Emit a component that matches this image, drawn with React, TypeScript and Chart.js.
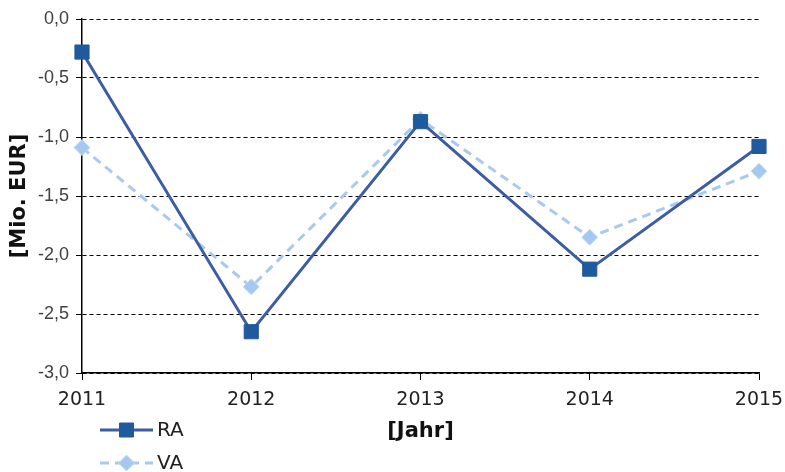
import React, { useEffect, useRef } from "react";
import { Chart, registerables } from "chart.js";

Chart.register(...registerables);

const years = ["2011", "2012", "2013", "2014", "2015"];
const raValues = [-0.28, -2.65, -0.87, -2.12, -1.08];
const vaValues = [-1.09, -2.27, -0.85, -1.85, -1.29];
const seriesLabels = ["RA", "VA"];
const yMin = -3;
const yMax = 0;
const yStep = 0.5;
const xTitle = "[Jahr]";
const yTitle = "[Mio. EUR]";

const RA_LINE = "#3D5DA3";
const RA_POINT = "#1F5A9E";
const VA_LINE = "#A9C9EE";
const VA_POINT = "#A5C8F0";

const legendPlugin = {
  id: "customLegend",
  afterDraw(chart: any) {
    const ctx = chart.ctx;
    const rows = [430, 463];
    chart.data.datasets.forEach((ds: any, i: number) => {
      const y = rows[i];
      const x0 = 100;
      const x1 = 153;
      ctx.save();
      ctx.strokeStyle = ds.borderColor;
      ctx.lineWidth = 3;
      ctx.setLineDash(ds.borderDash || []);
      ctx.beginPath();
      ctx.moveTo(x0, y);
      ctx.lineTo(x1, y);
      ctx.stroke();
      ctx.setLineDash([]);
      const cx = (x0 + x1) / 2;
      ctx.fillStyle = ds.pointBackgroundColor;
      ctx.strokeStyle = ds.pointBorderColor;
      ctx.lineWidth = 1;
      ctx.beginPath();
      if (ds.pointStyle === "rect") {
        ctx.rect(cx - 7, y - 7, 14, 14);
      } else {
        ctx.moveTo(cx, y - 8);
        ctx.lineTo(cx + 8, y);
        ctx.lineTo(cx, y + 8);
        ctx.lineTo(cx - 8, y);
        ctx.closePath();
      }
      ctx.fill();
      ctx.stroke();
      ctx.fillStyle = "#222";
      ctx.font = "20px 'DejaVu Sans'";
      ctx.textBaseline = "middle";
      ctx.textAlign = "left";
      ctx.fillText(ds.label, 157, y + 1);
      ctx.restore();
    });
  },
};

export default function App() {
  const ref = useRef<HTMLCanvasElement | null>(null);

  useEffect(() => {
    if (!ref.current) return;
    const chart = new Chart(ref.current, {
      type: "line",
      data: {
        labels: years,
        datasets: [
          {
            label: seriesLabels[0],
            data: raValues,
            borderColor: RA_LINE,
            borderWidth: 3,
            pointStyle: "rect",
            pointRadius: 10,
            pointHoverRadius: 10,
            pointBackgroundColor: RA_POINT,
            pointBorderColor: RA_POINT,
            pointBorderWidth: 1,
            tension: 0,
            fill: false,
          },
          {
            label: seriesLabels[1],
            data: vaValues,
            borderColor: VA_LINE,
            borderWidth: 3,
            borderDash: [9, 6],
            pointStyle: "rectRot",
            pointRadius: 8,
            pointHoverRadius: 8,
            pointBackgroundColor: VA_POINT,
            pointBorderColor: "#C3DBF5",
            pointBorderWidth: 1,
            tension: 0,
            fill: false,
          },
        ],
      },
      options: {
        animation: false,
        responsive: false,
        maintainAspectRatio: false,
        layout: { padding: { left: 0, top: 19, right: 26, bottom: 28 } },
        plugins: {
          legend: { display: false },
          tooltip: { enabled: false },
        },
        scales: {
          x: {
            type: "category",
            offset: false,
            afterFit: (s: any) => {
              s.height = 71;
              s.paddingRight = 0;
              s.paddingLeft = 0;
            },
            grid: {
              drawOnChartArea: false,
              drawTicks: true,
              tickLength: 7,
              color: "#000",
              tickColor: "#000",
              tickWidth: 1,
            },
            border: { color: "#000", width: 1.5 },
            ticks: {
              autoSkip: false,
              maxRotation: 0,
              color: "#222",
              padding: 9,
              font: { family: "'DejaVu Sans'", size: 19 },
            },
            title: {
              display: true,
              text: xTitle,
              color: "#111",
              padding: { top: 0, bottom: 0 },
              font: { family: "'DejaVu Sans'", size: 21, weight: "bold" },
            },
          },
          y: {
            min: yMin,
            max: yMax,
            afterFit: (s: any) => {
              s.width = 82;
            },
            grid: {
              drawTicks: true,
              tickLength: 6,
              color: "#000",
              tickColor: "#000",
              lineWidth: 1,
            },
            border: { color: "#000", width: 1.5, dash: [4, 3] },
            ticks: {
              stepSize: yStep,
              color: "#404040",
              padding: 7,
              font: { family: "'Liberation Sans'", size: 18 },
              callback: (v: any) => Number(v).toFixed(1).replace(".", ","),
            },
            title: {
              display: true,
              text: yTitle,
              color: "#111",
              padding: { top: 7, bottom: 0 },
              font: { family: "'DejaVu Sans'", size: 21, weight: "bold" },
            },
          },
        },
      },
      plugins: [legendPlugin],
    });
    return () => chart.destroy();
  }, []);

  return (
    <div style={{ position: "absolute", left: 0, top: 0, width: 785, height: 472, background: "#fff" }}>
      <canvas ref={ref} width={785} height={472} />
    </div>
  );
}
